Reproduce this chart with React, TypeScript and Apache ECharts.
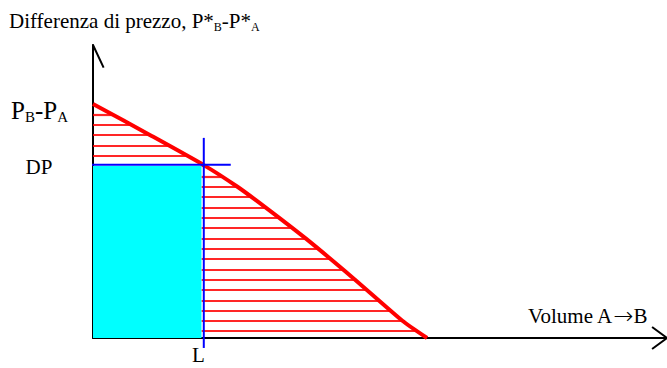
import React, { useEffect, useRef } from "react";
import * as echarts from "echarts";

// Demand-like curve (x: volume A→B, y: price difference), in axis units 0..100
const curveX = [0, 9.9, 19.3, 25.1, 30.1, 37.1, 45.6, 53.9, 58.2];
const curveY = [79.9, 69.3, 59.0, 51.7, 44.5, 33.9, 20.0, 5.9, 0];
// DP level and L volume
const dpLevel = 59.1;
const lVolume = 19.3;
// Cyan rectangle (volume L times price DP)
const rectRight = [18.9];
const rectTop = [58.7];
// Texts
const yTitleMain = ["Differenza di prezzo, P*", "-P*"];
const ySubs = ["B", "A"];
const xTitleParts = ["Volume A", "\u2192", "B"];
const pLabelMain = ["P", "-P"];
const dpLabel = "DP";
const lLabel = "L";

const HATCH_TOP = 76.35;
const HATCH_STEP = 3.526;
const HATCH_COUNT = 22;

const FONT = "'Liberation Serif', 'Times New Roman', serif";

function curveXAt(y: number): number {
  for (let i = 0; i < curveY.length - 1; i++) {
    const a = curveY[i];
    const b = curveY[i + 1];
    if (y <= a && y >= b) {
      const t = (a - y) / (a - b);
      return curveX[i] + t * (curveX[i + 1] - curveX[i]);
    }
  }
  return y > curveY[0] ? curveX[0] : curveX[curveX.length - 1];
}

export default function App() {
  const ref = useRef<HTMLDivElement>(null);
  useEffect(() => {
    if (!ref.current) return;
    const chart = echarts.init(ref.current, undefined, { renderer: "svg" });

    const hatch: any[] = [];
    for (let k = 0; k < HATCH_COUNT; k++) {
      const h = HATCH_TOP - k * HATCH_STEP;
      const x0 = h > dpLevel ? 0 : rectRight[0];
      const x1 = curveXAt(h);
      if (x1 > x0) hatch.push({ coords: [[x0, h], [x1, h]] });
    }

    const blackLine = { color: "#000", width: 2 };

    chart.setOption({
      animation: false,
      backgroundColor: "#fff",
      grid: { left: 93, right: 0, top: 45, bottom: 30 },
      xAxis: {
        type: "value",
        min: 0,
        max: 100,
        axisLine: { show: true, lineStyle: blackLine },
        axisTick: { show: false },
        axisLabel: { show: false },
        splitLine: { show: false },
      },
      yAxis: {
        type: "value",
        min: 0,
        max: 100,
        axisLine: { show: true, lineStyle: blackLine },
        axisTick: { show: false },
        axisLabel: { show: false },
        splitLine: { show: false },
      },
      series: [
        {
          type: "lines",
          coordinateSystem: "cartesian2d",
          silent: true,
          z: 1,
          lineStyle: { color: "#ff0000", width: 2.2, opacity: 0.85 },
          data: hatch,
        },
        {
          type: "line",
          silent: true,
          z: 2,
          symbol: "none",
          lineStyle: { width: 0 },
          areaStyle: { color: "#00ffff", opacity: 1 },
          data: [
            [0, rectTop[0]],
            [rectRight[0], rectTop[0]],
          ],
        },
        {
          type: "line",
          silent: true,
          z: 3,
          symbol: "none",
          smooth: 0.2,
          lineStyle: { color: "#ff0000", width: 4 },
          data: curveX.map((x, i) => [x, curveY[i]]),
        },
        {
          type: "line",
          silent: true,
          z: 5,
          clip: false,
          symbol: "none",
          lineStyle: { color: "#0000ff", width: 2 },
          data: [
            [-4, dpLevel],
            [24, dpLevel],
          ],
        },
        {
          type: "line",
          silent: true,
          z: 5,
          clip: false,
          symbol: "none",
          lineStyle: { color: "#0000ff", width: 2 },
          data: [
            [lVolume, -3.4],
            [lVolume, 68.3],
          ],
        },
        {
          type: "line",
          silent: true,
          z: 5,
          clip: false,
          symbol: "none",
          lineStyle: blackLine,
          data: [
            [-1.85, 92.3],
            [0, 100],
            [1.85, 92.3],
          ],
        },
        {
          type: "line",
          silent: true,
          z: 5,
          clip: false,
          symbol: "none",
          lineStyle: blackLine,
          data: [
            [97.4, 3.75],
            [100, 0],
            [97.4, -3.75],
          ],
        },
      ],
      graphic: [
        {
          type: "text",
          x: 9,
          y: 9,
          z: 10,
          style: {
            text: `{m|${yTitleMain[0]}}{s|${ySubs[0]}}{m|${yTitleMain[1]}}{s|${ySubs[1]}}`,
            verticalAlign: "top",
            fill: "#000",
            rich: {
              m: { fontSize: 21, lineHeight: 24, fontFamily: FONT, fill: "#000" },
              s: { fontSize: 12, lineHeight: 12, verticalAlign: "bottom", fontFamily: FONT, fill: "#000" },
            },
          },
        },
        {
          type: "text",
          x: 11,
          y: 96,
          z: 10,
          style: {
            text: `{m|${pLabelMain[0]}}{s|${ySubs[0]}}{m|${pLabelMain[1]}}{s|${ySubs[1]}}`,
            verticalAlign: "top",
            fill: "#000",
            rich: {
              m: { fontSize: 25, lineHeight: 28, fontFamily: FONT, fill: "#000" },
              s: { fontSize: 15, lineHeight: 15, verticalAlign: "bottom", fontFamily: FONT, fill: "#000" },
            },
          },
        },
        {
          type: "text",
          x: 25.5,
          y: 167,
          z: 10,
          style: { text: dpLabel, fontSize: 21, fontFamily: FONT, fill: "#000", verticalAlign: "middle" },
        },
        {
          type: "text",
          x: 528,
          y: 303,
          z: 10,
          style: {
            text: `{m|${xTitleParts[0]}}{a|${xTitleParts[1]}}{m|${xTitleParts[2]}}`,
            verticalAlign: "top",
            fill: "#000",
            rich: {
              m: { fontSize: 21, lineHeight: 26, fontFamily: FONT, fill: "#000" },
              a: {
                fontSize: 24,
                lineHeight: 26,
                fontWeight: 200,
                fontFamily: "'DejaVu Sans ExtraLight', 'DejaVu Sans', sans-serif",
                fill: "#000",
              },
            },
          },
        },
        {
          type: "text",
          x: 192,
          y: 355,
          z: 10,
          style: { text: lLabel, fontSize: 21, fontFamily: FONT, fill: "#000", verticalAlign: "middle" },
        },
      ],
    });
    return () => chart.dispose();
  }, []);
  return (
    <div
      ref={ref}
      style={{ position: "fixed", left: 0, top: 0, width: 667, height: 368 }}
    />
  );
}
